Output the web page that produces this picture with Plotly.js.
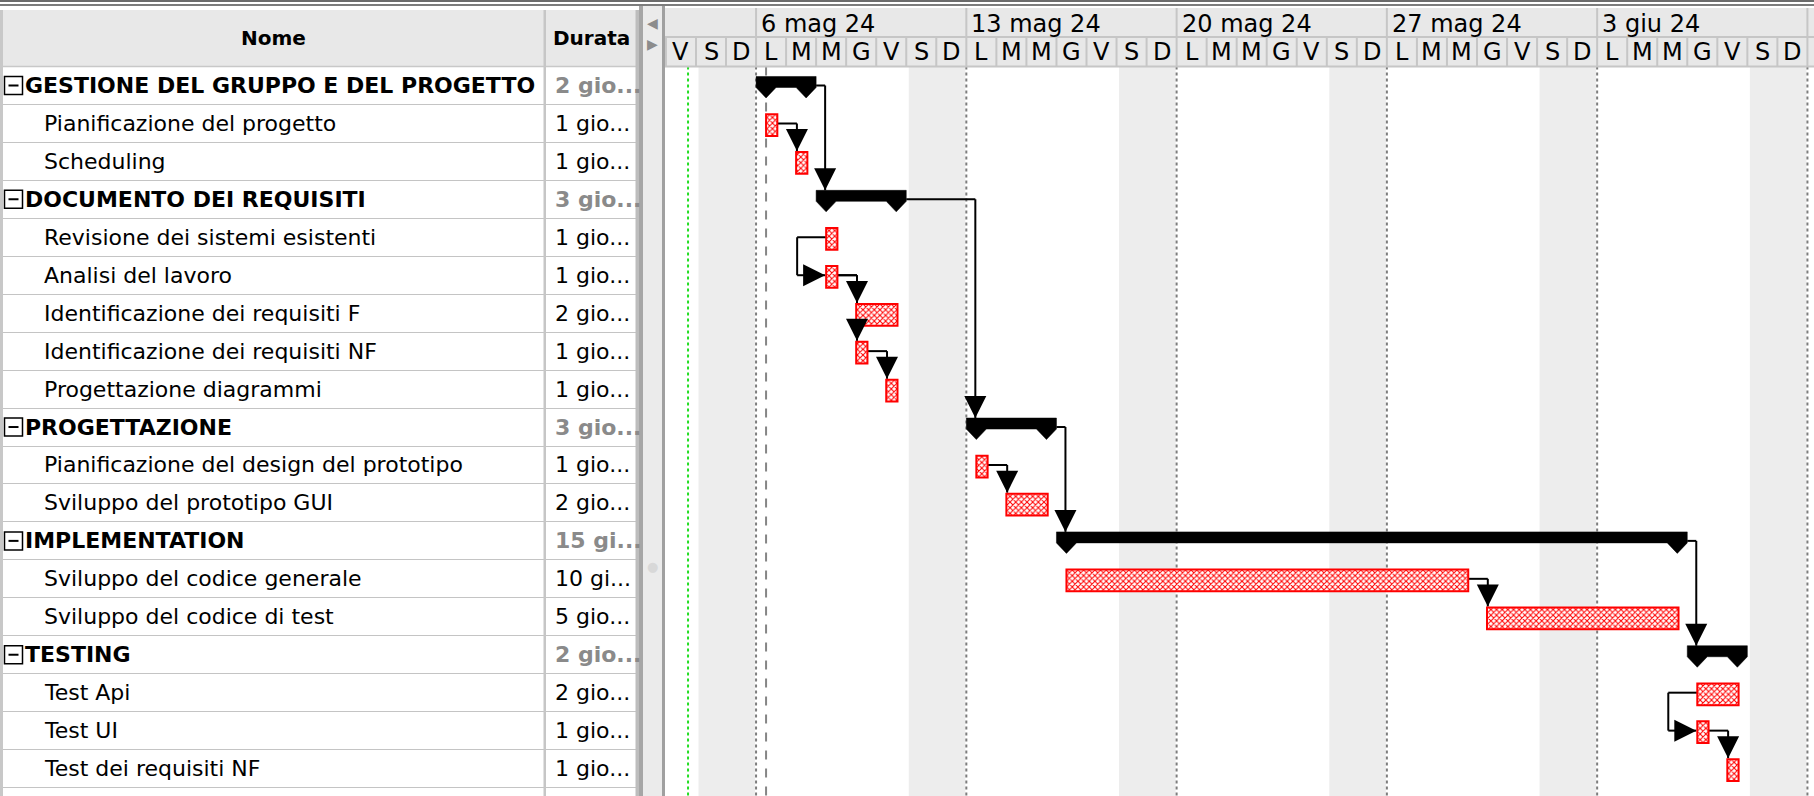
<!DOCTYPE html>
<html><head><meta charset="utf-8">
<script src="https://cdn.plot.ly/plotly-3.0.1.min.js"></script>
<style>html,body{margin:0;padding:0;background:#fff;overflow:hidden}</style>
</head><body><div id="chart" style="width:1814px;height:796px"></div>
<script>
// ---------------- DATA ----------------
const taskNames = [
  'GESTIONE DEL GRUPPO E DEL PROGETTO', 'Pianificazione del progetto', 'Scheduling',
  'DOCUMENTO DEI REQUISITI', 'Revisione dei sistemi esistenti', 'Analisi del lavoro',
  'Identificazione dei requisiti F', 'Identificazione dei requisiti NF', 'Progettazione diagrammi',
  'PROGETTAZIONE', 'Pianificazione del design del prototipo', 'Sviluppo del prototipo GUI',
  'IMPLEMENTATION', 'Sviluppo del codice generale', 'Sviluppo del codice di test',
  'TESTING', 'Test Api', 'Test UI', 'Test dei requisiti NF'
];
const durationLabels = [
  '2 gio...', '1 gio...', '1 gio...', '3 gio...', '1 gio...', '1 gio...', '2 gio...', '1 gio...', '1 gio...',
  '3 gio...', '1 gio...', '2 gio...', '15 gi...', '10 gi...', '5 gio...', '2 gio...', '2 gio...', '1 gio...', '1 gio...'
];
const isSummary = [1,0,0,1,0,0,0,0,0,1,0,0,1,0,0,1,0,0,0];
const startTimes = [
  '2024-05-06 00:00', '2024-05-06 08:00', '2024-05-07 08:00',
  '2024-05-08 00:00', '2024-05-08 08:00', '2024-05-08 08:00',
  '2024-05-09 08:00', '2024-05-09 08:00', '2024-05-10 08:00',
  '2024-05-13 00:00', '2024-05-13 08:00', '2024-05-14 08:00',
  '2024-05-16 00:00', '2024-05-16 08:00', '2024-05-30 08:00',
  '2024-06-06 00:00', '2024-06-06 08:00', '2024-06-06 08:00', '2024-06-07 08:00'
];
const endTimes = [
  '2024-05-08 00:00', '2024-05-06 17:00', '2024-05-07 17:00',
  '2024-05-11 00:00', '2024-05-08 17:00', '2024-05-08 17:00',
  '2024-05-10 17:00', '2024-05-09 17:00', '2024-05-10 17:00',
  '2024-05-16 00:00', '2024-05-13 17:00', '2024-05-15 17:00',
  '2024-06-06 00:00', '2024-05-29 17:00', '2024-06-05 17:00',
  '2024-06-08 00:00', '2024-06-07 17:00', '2024-06-06 17:00', '2024-06-07 17:00'
];
// [from, to, type]
const dependencies = [
  [0,3,'FS'], [1,2,'FS'], [3,9,'FS'], [4,5,'SS'], [5,6,'FS'], [5,7,'FS'], [7,8,'FS'],
  [10,11,'FS'], [9,12,'FS'], [13,14,'FS'], [12,15,'FS'], [16,17,'SS'], [17,18,'FS']
];
const weekLabels = ['6 mag 24', '13 mag 24', '20 mag 24', '27 mag 24', '3 giu 24', '10 giu 24'];
const weekStarts = ['2024-05-06', '2024-05-13', '2024-05-20', '2024-05-27', '2024-06-03', '2024-06-10'];
const dayLetters = ['D', 'L', 'M', 'M', 'G', 'V', 'S']; // by weekday, Sunday first
const viewStart = '2024-05-02 23:15';
const viewEnd = '2024-06-10 05:15';
const projectStart = '2024-05-06 08:00';
const todayMark = '2024-05-03 17:40';

// ---------------- GEOMETRY ----------------
const W = 1814, H = 796;
const X0 = 665;              // left of gantt area
const HEAD_B = 66.5;         // header bottom
const ROW_H = 37.95;
const TABLE_R = 639;
const HOUR = 3600e3, DAY = 24 * HOUR;
const FONT = 'DejaVu Sans';

function ms(s) {
  const [d, t] = s.split(' ');
  const [Y, M, D] = d.split('-').map(Number);
  let h = 0, m = 0;
  if (t) [h, m] = t.split(':').map(Number);
  return Date.UTC(Y, M - 1, D, h, m);
}
function ds(v) { return new Date(Math.round(v)).toISOString().slice(0, 23).replace('T', ' '); }
const py = p => 1 - p / H;
const pxx = p => p / W;
const yBottom = (H - HEAD_B) / ROW_H - 0.5;
const dayPx = (W - X0) / ((ms(viewEnd) - ms(viewStart)) / DAY);
const pxT = p => p / dayPx * DAY;
const rowU = p => p / ROW_H;

const T_OFF = -0.245, T_W = 0.574, T_TOP_OUT = -rowU(10.3);
const S_TOP = -0.237, S_BOT = 0.053, S_TIP = 0.33;

const rows = taskNames.map((_, i) => i);
const taskIdx = rows.filter(i => !isSummary[i]);
const sumIdx = rows.filter(i => isSummary[i]);

const shapes = [];
const annotations = [];

// ---- weekends, week lines (below traces)
const firstDay = Math.floor(ms(viewStart) / DAY) * DAY;
const days = [];
for (let d = firstDay; d < ms(viewEnd); d += DAY) days.push(d);
days.forEach(d => {
  const wd = new Date(d).getUTCDay();
  if (wd === 6) {
    shapes.push({type: 'rect', layer: 'below', xref: 'x', yref: 'y',
      x0: ds(d + pxT(2.5)), x1: ds(d + 2 * DAY - pxT(1)), y0: -0.5, y1: yBottom,
      fillcolor: '#ededed', line: {width: 0}});
  }
});
weekStarts.forEach(w => {
  shapes.push({type: 'line', layer: 'below', xref: 'x', yref: 'y', x0: w, x1: w, y0: -0.5, y1: yBottom,
    line: {color: '#7d7d7d', width: 2, dash: 'dot'}});
});
shapes.push({type: 'line', layer: 'below', xref: 'x', yref: 'y', x0: todayMark, x1: todayMark, y0: -0.5, y1: yBottom,
  line: {color: '#22dd22', width: 2, dash: 'dot'}});
shapes.push({type: 'line', layer: 'below', xref: 'x', yref: 'y', x0: projectStart, x1: projectStart, y0: -0.5, y1: yBottom,
  line: {color: '#858585', width: 2, dash: 'dash'}});

// ---- dependencies
function seg(xa, ya, xb, yb) {
  shapes.push({type: 'line', layer: 'below', xref: 'x', yref: 'y', x0: ds(xa), x1: ds(xb), y0: ya, y1: yb,
    line: {color: '#000', width: 2}});
}
function head(x, y, ax, ay) {
  annotations.push({xref: 'x', yref: 'y', x: ds(x), y: y, ax: ax, ay: ay, text: '', showarrow: true,
    arrowhead: 2, arrowsize: 2.2, arrowwidth: 2, arrowcolor: '#000', standoff: 0});
}
dependencies.forEach(([a, b, type]) => {
  if (type === 'FS') {
    const xs = ms(endTimes[a]);
    const xt = ms(startTimes[b]) + (isSummary[b] ? pxT(9) : pxT(0.8));
    const topB = b + (isSummary[b] ? S_TOP : T_TOP_OUT);
    seg(xs, a, xt, a);
    seg(xt, a, xt, topB);
    head(xt, topB, 0, -18);
  } else {
    const xs = ms(startTimes[a]);
    const xl = xs - pxT(29);
    const xt = ms(startTimes[b]) - pxT(1);
    seg(xs, a, xl, a);
    seg(xl, a, xl, b);
    seg(xl, b, xt, b);
    head(xt, b, -18, 0);
  }
});

// ---- chart header
shapes.push({type: 'rect', layer: 'above', xref: 'paper', yref: 'paper', x0: pxx(X0), x1: 1, y0: py(HEAD_B), y1: py(8),
  fillcolor: '#e8e8e8', line: {width: 0}});
[37, HEAD_B].forEach(p => shapes.push({type: 'line', layer: 'above', xref: 'paper', yref: 'paper', x0: pxx(X0), x1: 1,
  y0: py(p), y1: py(p), line: {color: '#c6c6c6', width: 2}}));
days.forEach(d => {
  shapes.push({type: 'line', layer: 'above', xref: 'x', yref: 'paper', x0: ds(d), x1: ds(d), y0: py(HEAD_B), y1: py(37),
    line: {color: '#c6c6c6', width: 2}});
  const mid = d + DAY / 2;
  if (mid > ms(viewStart) && mid < ms(viewEnd)) {
    annotations.push({xref: 'x', yref: 'paper', x: ds(mid), y: py(52), text: dayLetters[new Date(d).getUTCDay()],
      showarrow: false, xanchor: 'center', yanchor: 'middle', font: {family: FONT, size: 24, color: '#000'}});
  }
});
weekStarts.forEach((w, k) => {
  shapes.push({type: 'line', layer: 'above', xref: 'x', yref: 'paper', x0: w, x1: w, y0: py(37), y1: py(8),
    line: {color: '#c6c6c6', width: 2}});
  annotations.push({xref: 'x', yref: 'paper', x: ds(ms(w) + pxT(3)), y: py(24), text: weekLabels[k],
    showarrow: false, xanchor: 'left', yanchor: 'middle', font: {family: FONT, size: 24, color: '#000'}});
});

// ---- top window lines
shapes.push({type: 'rect', layer: 'above', xref: 'paper', yref: 'paper', x0: 0, x1: 1, y0: py(2), y1: 1,
  fillcolor: '#6b6b6b', line: {width: 0}});
shapes.push({type: 'rect', layer: 'above', xref: 'paper', yref: 'paper', x0: 0, x1: 1, y0: py(6), y1: py(4),
  fillcolor: '#7c7c7c', line: {width: 0}});

// ---- table header and borders
shapes.push({type: 'rect', layer: 'above', xref: 'paper', yref: 'paper', x0: pxx(3), x1: pxx(TABLE_R), y0: py(HEAD_B), y1: py(10),
  fillcolor: '#e8e8e8', line: {width: 0}});
shapes.push({type: 'line', layer: 'above', xref: 'paper', yref: 'paper', x0: pxx(3), x1: pxx(TABLE_R), y0: py(HEAD_B), y1: py(HEAD_B),
  line: {color: '#c8c8c8', width: 1.5}});
shapes.push({type: 'rect', layer: 'above', xref: 'paper', yref: 'paper', x0: 0, x1: pxx(3), y0: 0, y1: py(10),
  fillcolor: '#c8c8c8', line: {width: 0}});
shapes.push({type: 'rect', layer: 'above', xref: 'paper', yref: 'paper', x0: pxx(543.5), x1: pxx(546), y0: 0, y1: py(10),
  fillcolor: '#c6c6c6', line: {width: 0}});
shapes.push({type: 'rect', layer: 'above', xref: 'paper', yref: 'paper', x0: pxx(635.5), x1: pxx(639), y0: 0, y1: py(10),
  fillcolor: '#bdbdbd', line: {width: 0}});
// separator strip
shapes.push({type: 'rect', layer: 'above', xref: 'paper', yref: 'paper', x0: pxx(639), x1: pxx(643), y0: 0, y1: py(6),
  fillcolor: '#a6a6a6', line: {width: 0}});
shapes.push({type: 'rect', layer: 'above', xref: 'paper', yref: 'paper', x0: pxx(643), x1: pxx(662), y0: 0, y1: py(6),
  fillcolor: '#ebebeb', line: {width: 0}});
shapes.push({type: 'rect', layer: 'above', xref: 'paper', yref: 'paper', x0: pxx(662), x1: pxx(X0), y0: 0, y1: py(6),
  fillcolor: '#a0a0a0', line: {width: 0}});
annotations.push({xref: 'paper', yref: 'paper', x: pxx(652), y: py(13), text: '◀', showarrow: false,
  font: {family: FONT, size: 14, color: '#8c8c8c'}});
annotations.push({xref: 'paper', yref: 'paper', x: pxx(652), y: py(34), text: '▶', showarrow: false,
  font: {family: FONT, size: 14, color: '#8c8c8c'}});
annotations.push({xref: 'paper', yref: 'paper', x: pxx(652), y: py(576), text: '●', showarrow: false,
  font: {family: FONT, size: 13, color: '#d8d8d8'}});

annotations.push({xref: 'paper', yref: 'paper', x: pxx(273.5), y: py(38), text: '<b>Nome</b>', showarrow: false,
  xanchor: 'center', yanchor: 'middle', font: {family: FONT, size: 20, color: '#000'}});
annotations.push({xref: 'paper', yref: 'paper', x: pxx(591), y: py(38), text: '<b>Durata</b>', showarrow: false,
  xanchor: 'center', yanchor: 'middle', font: {family: FONT, size: 20, color: '#000'}});

// ---- table cells
rows.forEach(i => {
  const sum = isSummary[i];
  annotations.push({xref: 'x2', yref: 'y2', x: sum ? 23 : 41.5, y: i, text: sum ? '<b>' + taskNames[i] + '</b>' : taskNames[i],
    showarrow: false, xanchor: 'left', yanchor: 'middle', font: {family: FONT, size: 22, color: '#000'}});
  annotations.push({xref: 'x2', yref: 'y2', x: 553, y: i, text: sum ? '<b>' + durationLabels[i] + '</b>' : durationLabels[i],
    showarrow: false, xanchor: 'left', yanchor: 'middle', font: {family: FONT, size: 22, color: sum ? '#8a8a8a' : '#000'}});
  if (sum) {
    shapes.push({type: 'rect', layer: 'above', xref: 'x2', yref: 'y2', x0: 4.5, x1: 22.5, y0: i - rowU(9), y1: i + rowU(9),
      fillcolor: '#fff', line: {color: '#000', width: 1.5}});
    shapes.push({type: 'line', layer: 'above', xref: 'x2', yref: 'y2', x0: 8.5, x1: 18.5, y0: i, y1: i,
      line: {color: '#000', width: 2}});
  }
});

// ---------------- TRACES ----------------
const taskBars = {
  type: 'bar', orientation: 'h', xaxis: 'x', yaxis: 'y',
  y: taskIdx, base: taskIdx.map(i => startTimes[i]),
  x: taskIdx.map(i => ms(endTimes[i]) - ms(startTimes[i])),
  width: T_W, offset: T_OFF,
  marker: {color: '#ff0000', line: {color: '#ff0000', width: 2},
    pattern: {shape: 'x', fgcolor: '#ff0000', bgcolor: '#ffffff', size: 4, solidity: 0.45}},
  hoverinfo: 'skip'
};
const sx = [], sy = [];
sumIdx.forEach(i => {
  const s = ms(startTimes[i]), e = ms(endTimes[i]), tw = pxT(20);
  [[s, S_TOP], [e, S_TOP], [e, S_BOT], [e - tw / 2, S_TIP], [e - tw, S_BOT],
   [s + tw, S_BOT], [s + tw / 2, S_TIP], [s, S_BOT], [s, S_TOP]].forEach(p => { sx.push(ds(p[0])); sy.push(i + p[1]); });
  sx.push(null); sy.push(null);
});
const summaryBars = {
  type: 'scatter', mode: 'lines', xaxis: 'x', yaxis: 'y', x: sx, y: sy, fill: 'toself',
  fillcolor: '#000', line: {color: '#000', width: 0.5}, hoverinfo: 'skip', connectgaps: false
};
const tableDummy = {type: 'scatter', mode: 'markers', xaxis: 'x2', yaxis: 'y2', x: [0], y: [0],
  marker: {opacity: 0}, hoverinfo: 'skip'};

const layout = {
  width: W, height: H, margin: {l: 0, r: 0, t: 0, b: 0},
  paper_bgcolor: '#ffffff', plot_bgcolor: 'rgba(0,0,0,0)', showlegend: false,
  xaxis: {type: 'date', domain: [pxx(X0), 1], range: [viewStart, viewEnd], visible: false, fixedrange: true},
  yaxis: {domain: [0, py(HEAD_B)], range: [yBottom, -0.5], visible: false, fixedrange: true},
  xaxis2: {domain: [0, pxx(TABLE_R)], range: [0, TABLE_R], visible: false, anchor: 'y2', fixedrange: true},
  yaxis2: {domain: [0, py(HEAD_B)], range: [yBottom, -0.5], anchor: 'x2', showticklabels: false, ticks: '',
    showline: false, zeroline: false, tickmode: 'array', tickvals: rows.map(i => i + 0.5),
    showgrid: true, gridcolor: '#c4c4c4', gridwidth: 1, fixedrange: true},
  shapes: shapes, annotations: annotations
};
Plotly.newPlot('chart', [tableDummy, taskBars, summaryBars], layout, {displayModeBar: false, staticPlot: true});
</script></body></html>
